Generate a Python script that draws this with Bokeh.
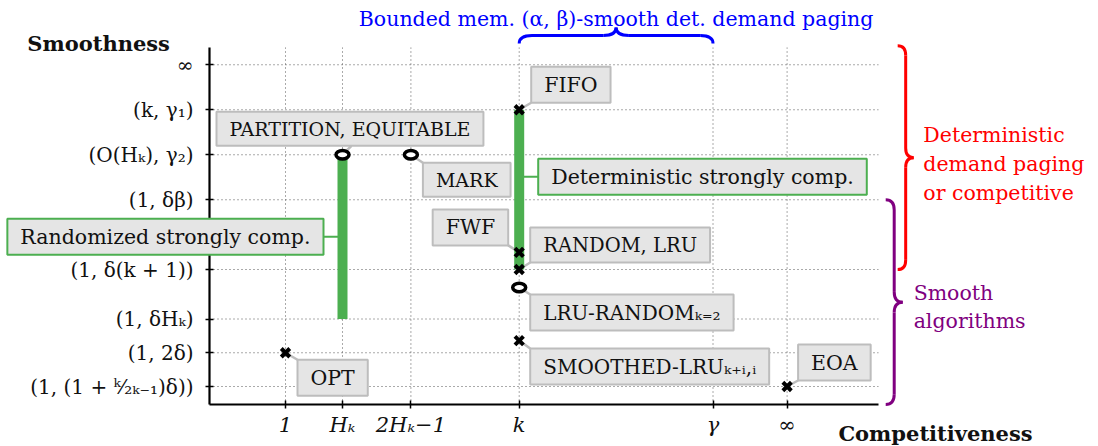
from bokeh.plotting import figure
from bokeh.models import Range1d, FixedTicker, Label
from bokeh.embed import file_html
from bokeh.resources import INLINE

SERIF = "DejaVu Serif"

# ---- axes -------------------------------------------------------------
x_ticks = [1, 2, 3.2, 5.1, 8.5, 9.8]
x_labels = ["1", "Hₖ", "2Hₖ−1", "k", "γ", "∞"]
y_ticks = [0.4, 1.15, 1.9, 3.0, 4.55, 5.55, 6.55, 7.55]
y_labels = ["(1, (1 + ᵏ⁄₂ₖ₋₁)δ))", "(1, 2δ)", "(1, δHₖ)", "(1, δ(k + 1))",
            "(1, δβ)", "(O(Hₖ), γ₂)", "(k, γ₁)", "∞"]
x_axis_start, x_axis_end = -1 / 3, 11.4
y_axis_start, y_axis_end = 0, 7.93

# ---- algorithms (x = competitiveness, y = smoothness) ----------------
cross_names = ["OPT", "FIFO", "FWF", "RANDOM, LRU", "SMOOTHED-LRUₖ₊ᵢ,ᵢ", "EOA"]
cross_x = [1, 5.1, 5.1, 5.1, 5.1, 9.8]
cross_y = [1.15, 6.55, 3.38, 3.0, 1.42, 0.4]

circle_names = ["PARTITION, EQUITABLE", "MARK", "LRU-RANDOMₖ₌₂"]
circle_x = [2, 3.2, 5.1]
circle_y = [5.55, 5.55, 2.6]

band_names = ["Randomized strongly comp.", "Deterministic strongly comp."]
band_x = [2, 5.1]
band_low = [1.9, 3.0]
band_high = [5.55, 6.55]
band_label_y = [3.73, 5.06]

# ---- brace spans -----------------------------------------------------
blue_span = (5.1, 8.5)      # k .. gamma
red_span = (3.0, 7.97)
purple_span = (0.0, 4.55)

# ---- figure ------------------------------------------------------------
W, H = 1098, 446
SX = 57.0   # px per x unit
SY = 45.0   # px per y unit
x_range = Range1d(-4.0, -4.0 + W / SX)
y_range = Range1d(-42 / SY, -42 / SY + H / SY)

p = figure(width=W, height=H, x_range=x_range, y_range=y_range,
           output_backend="svg", toolbar_location=None,
           min_border_left=0, min_border_right=0, min_border_top=0,
           min_border_bottom=0)
p.outline_line_color = None
p.grid.visible = False

for ax, ticks, labels in ((p.xaxis[0], x_ticks, x_labels), (p.yaxis[0], y_ticks, y_labels)):
    ax.ticker = FixedTicker(ticks=ticks)
    ax.major_label_overrides = {t: l for t, l in zip(ticks, labels)}
    ax.axis_line_width = 2.2
    ax.axis_line_color = "black"
    ax.major_tick_line_width = 1.5
    ax.major_tick_in = 4
    ax.major_tick_out = 4
    ax.minor_tick_line_color = None
    ax.major_label_text_font = SERIF
    ax.major_label_text_color = "#111111"
ax_x, ax_y = p.xaxis[0], p.yaxis[0]
ax_x.fixed_location = y_axis_start
ax_y.fixed_location = x_axis_start
ax_x.bounds = (x_axis_start, x_axis_end)
ax_y.bounds = (y_axis_start, y_axis_end)
ax_x.major_label_text_font_size = "21px"
ax_x.major_label_text_font_style = "italic"
ax_y.major_label_text_font_size = "20px"
ax_x.major_label_standoff = 4
ax_y.major_label_standoff = 12

# dotted grid
p.segment(x0=[x_axis_start] * len(y_ticks), y0=y_ticks, x1=[x_axis_end] * len(y_ticks), y1=y_ticks,
          line_color="#555555", line_width=1, line_dash="1 3")
p.segment(x0=x_ticks, y0=[y_axis_start] * len(x_ticks), x1=x_ticks, y1=[y_axis_end] * len(x_ticks),
          line_color="#555555", line_width=1, line_dash="1 3")

# label placement: anchor, dx px, dy px (up), connector end
place = {
    "OPT": ("top_left", 12, -7, None),
    "FIFO": ("bottom_left", 12, 7, None),
    "FWF": ("bottom_right", -11, 7, None),
    "RANDOM, LRU": ("bottom_left", 11, 7, None),
    "SMOOTHED-LRUₖ₊ᵢ,ᵢ": ("top_left", 11, -8, None),
    "EOA": ("bottom_left", 11, 6, None),
    "PARTITION, EQUITABLE": ("bottom_left", -126, 9, (9, 9)),
    "MARK": ("top_left", 12, -8, None),
    "LRU-RANDOMₖ₌₂": ("top_left", 11, -7, None),
}
caps_size = {"RANDOM, LRU": "19.5px", "SMOOTHED-LRUₖ₊ᵢ,ᵢ": "20px", "PARTITION, EQUITABLE": "19px",
             "MARK": "19px", "LRU-RANDOMₖ₌₂": "20px"}

names = cross_names + circle_names
pxs = cross_x + circle_x
pys = cross_y + circle_y

# gray connectors
cx0, cy0, cx1, cy1 = [], [], [], []
for n, x, y in zip(names, pxs, pys):
    anchor, dx, dy, conn = place[n]
    if conn is not None:
        dx, dy = conn
    cx0.append(x); cy0.append(y)
    cx1.append(x + dx / SX); cy1.append(y + dy / SY)
p.segment(x0=cx0, y0=cy0, x1=cx1, y1=cy1, line_color="#bdbdbd", line_width=2.5)

# green connectors + bars
GREEN = "#4caf50"
p.segment(x0=band_x, y0=band_label_y, x1=[band_x[0] - 19 / SX, band_x[1] + 19 / SX],
          y1=band_label_y, line_color=GREEN, line_width=2)
p.segment(x0=band_x, y0=band_low, x1=band_x, y1=band_high, line_color=GREEN, line_width=10)

# markers
p.scatter(cross_x, cross_y, marker="x", size=12, line_width=4, line_color="black")
p.ellipse(circle_x, circle_y, width=13, height=8.5, width_units="screen", height_units="screen",
          line_width=3.5, line_color="black", fill_color="white")

# boxed labels
def boxed(text, x, y, anchor, dx, dy, size, border, border_w=2):
    p.add_layout(Label(x=x, y=y, x_offset=dx, y_offset=dy, text=text, anchor=anchor,
                       text_font=SERIF, text_font_size=size, text_color="#111111",
                       background_fill_color="#e5e5e5", border_line_color=border,
                       border_line_width=border_w, padding=(13, 6)))

for n, x, y in zip(names, pxs, pys):
    anchor, dx, dy, conn = place[n]
    size = caps_size.get(n, "20.5px")
    boxed(n, x, y, anchor, dx, dy, size, "#bdbdbd")

boxed(band_names[0], band_x[0], band_label_y[0], "center_right", -19, 0, "20.5px", GREEN)
boxed(band_names[1], band_x[1], band_label_y[1], "center_left", 19, 0, "20.5px", GREEN)

# braces
def brace_v(y_lo, y_hi, xb, amp, color):
    a = amp / SX
    r = amp * 0.6 / SY
    xm, xt, ym = xb + a / 2, xb + a, (y_lo + y_hi) / 2
    p.quadratic(x0=[xb, xm, xt, xm], y0=[y_hi, ym + r, ym, y_lo + r],
                x1=[xm, xt, xm, xb], y1=[y_hi - r, ym, ym - r, y_lo],
                cx=[xm, xm, xm, xm], cy=[y_hi, ym, ym, y_lo],
                line_color=color, line_width=3)
    p.segment(x0=[xm, xm], y0=[y_hi - r, ym - r], x1=[xm, xm], y1=[ym + r, y_lo + r],
              line_color=color, line_width=3)

def brace_h(x_lo, x_hi, yb, amp, color):
    a = amp / SY
    r = amp * 0.8 / SX
    ym, yt, xc = yb + a / 2, yb + a, (x_lo + x_hi) / 2
    p.quadratic(x0=[x_lo, xc - r, xc, x_hi - r], y0=[yb, ym, yt, ym],
                x1=[x_lo + r, xc, xc + r, x_hi], y1=[ym, yt, ym, yb],
                cx=[x_lo, xc, xc, x_hi], cy=[ym, ym, ym, ym],
                line_color=color, line_width=3)
    p.segment(x0=[x_lo + r, xc + r], y0=[ym, ym], x1=[xc - r, x_hi - r], y1=[ym, ym],
              line_color=color, line_width=3)

BLUE, RED, PURPLE = "#0000ff", "#ff0000", "#800080"
brace_h(blue_span[0], blue_span[1], 8.02, 16, BLUE)
brace_v(red_span[0], red_span[1], 11.74, 16, RED)
brace_v(purple_span[0], purple_span[1], 11.53, 17, PURPLE)

def text(t, x, y, color="#111111", size="20px", style="normal", align="left"):
    p.add_layout(Label(x=x, y=y, text=t, text_font=SERIF, text_font_size=size,
                       text_color=color, text_font_style=style, text_align=align,
                       text_baseline="alphabetic"))

text("Bounded mem. (α, β)-smooth det. demand paging", sum(blue_span) / 2, 8.56,
     color=BLUE, size="20.5px", align="center")
for i, line in enumerate(["Deterministic", "demand paging", "or competitive"]):
    text(line, 12.19, 5.98 - i * 0.645, color=RED, size="20.5px")
for i, line in enumerate(["Smooth", "algorithms"]):
    text(line, 12.02, 2.47 - i * 0.62, color=PURPLE, size="20.5px")
text("Smoothness", -3.53, 8.02, size="21px", style="bold")
text("Competitiveness", 10.70, -0.644, size="21px", style="bold")

open("out.html", "w").write(file_html(p, INLINE))
